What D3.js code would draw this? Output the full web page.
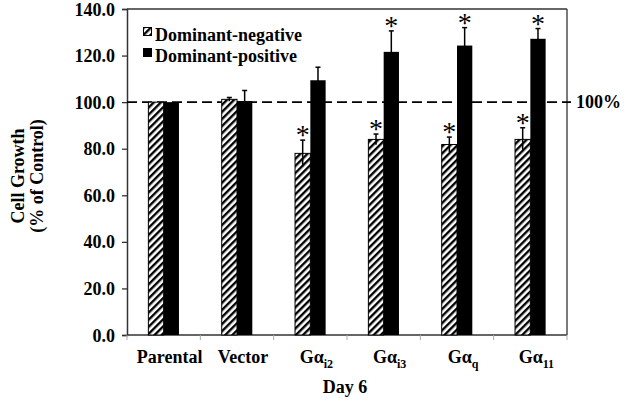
<!DOCTYPE html>
<html><head><meta charset="utf-8">
<script src="https://cdn.jsdelivr.net/npm/d3@7"></script>
<style>
body{margin:0;background:#fff;}
svg text{font-family:"Liberation Serif","Times New Roman",serif;font-weight:bold;fill:#000;}
</style></head>
<body><svg id="c" width="626" height="405"></svg>
<script>
const categories = ["Parental","Vector","Gαi2","Gαi3","Gαq","Gα11"];
const catMain = ["Parental","Vector","Gα","Gα","Gα","Gα"];
const catSub = ["","","i2","i3","q","11"];
const negValues = [100, 101.2, 78.0, 84.0, 81.8, 84.0];
const negErrors = [0, 0.8, 5.7, 2.3, 3.2, 5.0];
const posValues = [100, 100.5, 109.4, 121.6, 124.3, 127.2];
const posErrors = [0, 4.5, 5.6, 9.0, 7.7, 4.4];
const negStar = [false,false,true,true,true,true];
const posStar = [false,false,false,true,true,true];
const yTicks = [0,20,40,60,80,100,120,140];
const seriesNames = ["Dominant-negative","Dominant-positive"];
const refValue = 100;

const svg = d3.select("#c");
const L=127, R=567, T=9, B=335;
const x = d3.scaleBand().domain(categories).range([L,R]);
const y = d3.scaleLinear().domain([0,140]).range([B,T]);
const bw = 15.3;

const defs = svg.append("defs");
const pat = defs.append("pattern").attr("id","hatch").attr("patternUnits","userSpaceOnUse")
  .attr("width",5).attr("height",5).attr("patternTransform","rotate(45)");
pat.append("rect").attr("width",5).attr("height",5).attr("fill","#fff");
pat.append("rect").attr("width",2.4).attr("height",5).attr("fill","#000");

// frame
svg.append("line").attr("x1",L).attr("x2",R).attr("y1",T).attr("y2",T).attr("stroke","#333").attr("stroke-width",1.3);
svg.append("line").attr("x1",R).attr("x2",R).attr("y1",T).attr("y2",B).attr("stroke","#333").attr("stroke-width",1.3);

// y axis
const ya = svg.append("g").attr("transform",`translate(${L},0)`)
  .call(d3.axisLeft(y).tickValues(yTicks).tickFormat(d3.format(".1f")).tickSize(5).tickPadding(7));
ya.select(".domain").attr("stroke","#333").attr("stroke-width",1.5);
ya.selectAll(".tick line").attr("stroke","#333").attr("stroke-width",1.3);
ya.selectAll("text").style("font-size","18px").attr("dy","0.34em");

// x axis (ticks at band boundaries)
svg.append("line").attr("x1",L).attr("x2",R).attr("y1",B).attr("y2",B).attr("stroke","#333").attr("stroke-width",1.5);
const bounds = categories.map(c=>x(c)).concat([R]);
svg.append("g").selectAll("line").data(bounds).join("line")
  .attr("x1",d=>d).attr("x2",d=>d).attr("y1",B).attr("y2",B+5).attr("stroke","#aaa").attr("stroke-width",1);

// dashed reference line
svg.append("line").attr("x1",L).attr("x2",R+4).attr("y1",y(refValue)).attr("y2",y(refValue))
  .attr("stroke","#000").attr("stroke-width",1.8).attr("stroke-dasharray","10,5");
svg.append("text").attr("x",R+9).attr("y",y(refValue)+6).style("font-size","18px").text("100%");

// bars
const g = svg.append("g");
categories.forEach((c,i)=>{
  const cx = x(c)+x.bandwidth()/2;
  g.append("rect").attr("x",cx-bw).attr("y",y(negValues[i])).attr("width",bw).attr("height",B-y(negValues[i]))
    .attr("fill","url(#hatch)").attr("stroke","#000").attr("stroke-width",1);
  g.append("rect").attr("x",cx).attr("y",y(posValues[i])).attr("width",bw).attr("height",B-y(posValues[i]))
    .attr("fill","#000");
});
// error bars
function err(cx, v, e){
  if(!e) return;
  g.append("line").attr("x1",cx).attr("x2",cx).attr("y1",y(v+e)).attr("y2",y(v-e)).attr("stroke","#000").attr("stroke-width",1.5);
  g.append("line").attr("x1",cx-2.5).attr("x2",cx+2.5).attr("y1",y(v+e)).attr("y2",y(v+e)).attr("stroke","#000").attr("stroke-width",1.5);
}
function star(cx, v, e){
  g.append("text").attr("x",cx).attr("y",y(v+e)+4).attr("text-anchor","middle").style("font-size","28px").style("font-weight","normal").text("*");
}
categories.forEach((c,i)=>{
  const cx = x(c)+x.bandwidth()/2;
  err(cx-bw/2, negValues[i], negErrors[i]);
  err(cx+bw/2, posValues[i], posErrors[i]);
  if(negStar[i]) star(cx-bw/2, negValues[i], negErrors[i]);
  if(posStar[i]) star(cx+bw/2, posValues[i], posErrors[i]);
});

// x labels
categories.forEach((c,i)=>{
  const cx = x(c)+x.bandwidth()/2 + 6;
  const t = svg.append("text").attr("x",cx).attr("y",363).attr("text-anchor","middle").style("font-size","18px");
  t.append("tspan").text(catMain[i]);
  if(catSub[i]) t.append("tspan").attr("dy",5).style("font-size","12px").text(catSub[i]);
});
svg.append("text").attr("x",345).attr("y",393).attr("text-anchor","middle").style("font-size","18px").text("Day 6");

// y label
const yl = svg.append("text").attr("transform",`translate(24,${(T+B)/2+4}) rotate(-90)`).attr("text-anchor","middle").style("font-size","18px");
yl.append("tspan").attr("x",0).attr("y",0).text("Cell Growth");
yl.append("tspan").attr("x",0).attr("y",19).text("(% of Control)");

// legend
const lg = svg.append("g");
lg.append("rect").attr("x",143.5).attr("y",27.5).attr("width",8).attr("height",8).attr("fill","url(#hatch)").attr("stroke","#000").attr("stroke-width",1);
lg.append("rect").attr("x",143).attr("y",48).attr("width",9).attr("height",9).attr("fill","#000");
lg.append("text").attr("x",155).attr("y",41).style("font-size","18px").text(seriesNames[0]);
lg.append("text").attr("x",155).attr("y",62).style("font-size","18px").text(seriesNames[1]);
</script></body></html>
